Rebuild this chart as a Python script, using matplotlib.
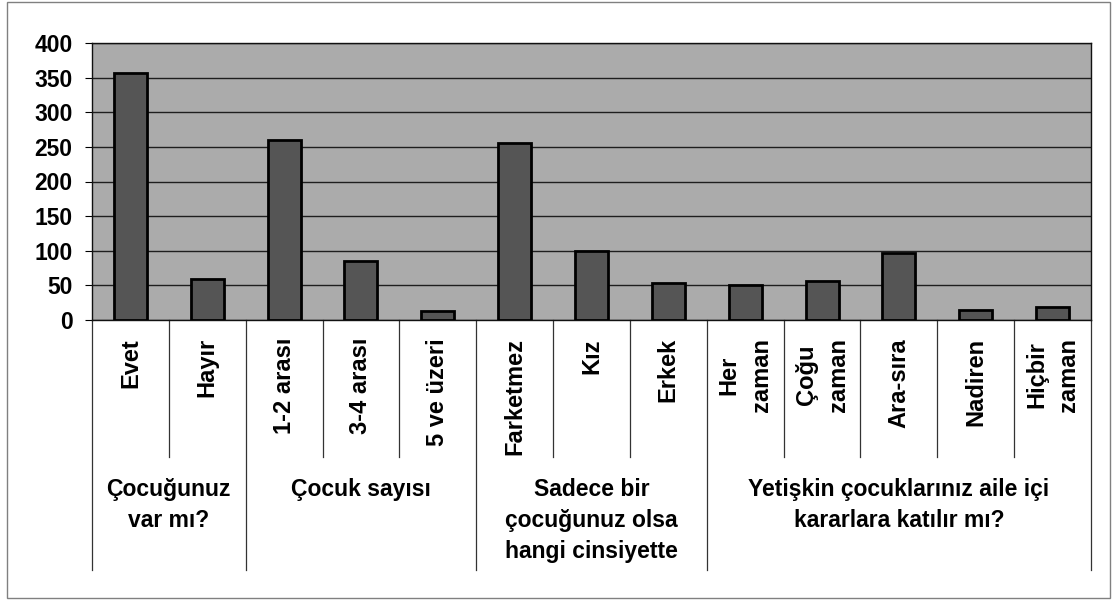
import matplotlib.pyplot as plt
from matplotlib.transforms import blended_transform_factory
from matplotlib.patches import Rectangle
import numpy as np

plt.rcParams['font.family'] = ['Liberation Sans', 'DejaVu Sans']
plt.rcParams['font.weight'] = 'bold'

# kategoriler ve degerler
labels = ['Evet', 'Hayır', '1-2 arası', '3-4 arası', '5 ve üzeri',
          'Farketmez', 'Kız', 'Erkek', 'Her\nzaman', 'Çoğu\nzaman',
          'Ara-sıra', 'Nadiren', 'Hiçbir\nzaman']
values = [356, 59, 260, 85, 13, 256, 99, 53, 50, 56, 97, 14, 19]

groups = ['Çocuğunuz\nvar mı?', 'Çocuk sayısı',
          'Sadece bir\nçocuğunuz olsa\nhangi cinsiyette',
          'Yetişkin çocuklarınız aile içi\nkararlara katılır mı?']
group_sizes = [2, 3, 3, 5]

W, H = 1113, 601
fig = plt.figure(figsize=(W / 100, H / 100), dpi=100)
ax = fig.add_axes([92 / W, 1 - 320 / H, (1091 - 92) / W, (320 - 43) / H])

x = np.arange(len(values))
ax.set_facecolor('#ababab')
ax.bar(x, values, width=0.43, color='#555555', edgecolor='black', linewidth=2.0, zorder=3)

ax.set_xlim(-0.5, len(values) - 0.5)
ax.set_ylim(0, 400)
ax.set_yticks(range(0, 401, 50))
ax.yaxis.grid(True, color='#1e1e1e', linewidth=1.0, zorder=1)
ax.tick_params(axis='y', labelsize=16.5, length=5, pad=9, width=0.8)

ax.set_xticks(x)
ax.set_xticklabels(labels, rotation=90, va='top', ha='center', fontsize=17,
                   multialignment='center', linespacing=1.5)
ax.tick_params(axis='x', length=0, pad=13)

for s in ['top', 'right', 'bottom', 'left']:
    ax.spines[s].set_color('#111111')
    ax.spines[s].set_linewidth(1.0)

# alt seviye ayraclari
tr = blended_transform_factory(ax.transData, fig.transFigure)
inner_bot = 1 - 457 / H
outer_bot = 1 - 570 / H
bounds = np.cumsum([0] + group_sizes)
for b in range(len(values) + 1):
    ybot = outer_bot if b in bounds else inner_bot
    ax.plot([b - 0.5, b - 0.5], [1 - 320 / H, ybot], transform=tr,
            color='#333333', linewidth=0.9, clip_on=False)

for g, (a, b) in zip(groups, zip(bounds[:-1], bounds[1:])):
    ax.text((a + b) / 2 - 0.5, 1 - 478 / H, g, transform=tr, ha='center', va='top',
            fontsize=16.5, linespacing=1.45, multialignment='center')

# dis cerceve
fig.patches.append(Rectangle((7 / W, 3 / H), 1103 / W, 596 / H, transform=fig.transFigure,
                             fill=False, edgecolor='#808080', linewidth=1.0))

fig.savefig('out.png', dpi=100)
